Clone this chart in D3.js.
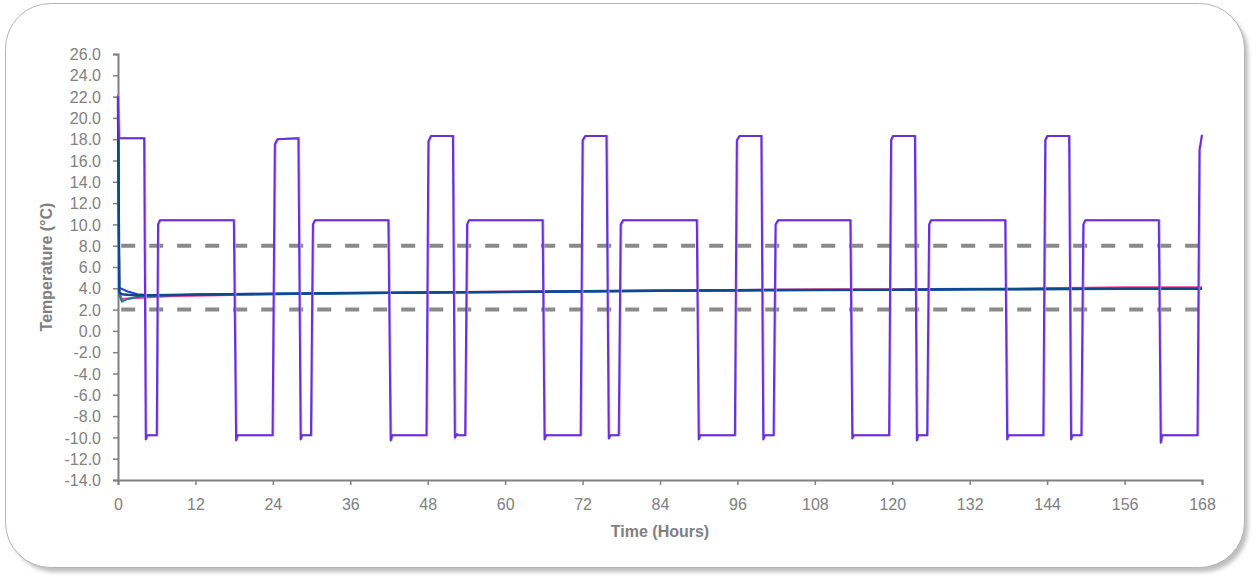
<!DOCTYPE html>
<html><head><meta charset="utf-8">
<script src="https://cdn.jsdelivr.net/npm/d3@7"></script>
<style>
html,body{margin:0;padding:0;background:#fff;}
svg{display:block;font-family:"Liberation Sans",Arial,sans-serif;}
</style></head>
<body>
<svg id="chart" width="1258" height="575"></svg>
<script>
// ---- data (time in hours, temperature in °C) ----
const xTicks = [0,12,24,36,48,60,72,84,96,108,120,132,144,156,168];
const yTicks = [26,24,22,20,18,16,14,12,10,8,6,4,2,0,-2,-4,-6,-8,-10,-12,-14];
const limitLines = [8, 2];

const ambientTime = [0,0.15,4.05,4.3,4.5,6.0,6.2,6.5,17.95,18.3,18.5,23.95,24.3,24.7,27.95,28.3,28.5,29.9,30.2,30.5,41.9,42.25,42.5,47.8,48.1,48.5,51.9,52.2,52.5,52.8,53.8,54.1,54.4,65.8,66.1,66.3,71.7,72.0,72.4,75.7,76.05,76.3,77.6,77.9,78.3,89.7,90.0,90.2,95.6,95.9,96.3,99.7,100.0,100.2,101.6,101.9,102.3,113.5,113.8,114.0,119.5,119.8,120.1,123.5,123.8,124.0,125.4,125.7,126.0,137.5,137.8,138.0,143.4,143.7,144.0,147.4,147.7,147.9,149.3,149.6,149.9,161.3,161.6,161.8,167.3,167.6,168.0];
const ambientTemp = [22.0,18.1,18.1,-10.2,-9.8,-9.8,10.0,10.4,10.4,-10.3,-9.8,-9.8,17.5,18.0,18.1,-10.2,-9.8,-9.8,10.0,10.4,10.4,-10.3,-9.8,-9.8,17.8,18.3,18.3,-10.0,-9.7,-9.8,-9.8,10.0,10.4,10.4,-10.2,-9.8,-9.8,17.9,18.3,18.3,-10.1,-9.8,-9.8,10.0,10.4,10.4,-10.2,-9.8,-9.8,17.9,18.3,18.3,-10.2,-9.8,-9.8,10.0,10.4,10.4,-10.1,-9.8,-9.8,17.9,18.3,18.3,-10.3,-9.8,-9.8,10.0,10.4,10.4,-10.2,-9.8,-9.8,17.9,18.3,18.3,-10.2,-9.8,-9.8,10.0,10.4,10.4,-10.5,-9.8,-9.8,17.0,18.4];

const productTime  = [0,0.2,0.6,1.5,3,5,8,12,24,36,48,60,72,84,96,108,120,132,144,156,168];
const pinkTemp     = [22.2,3.6,3.0,3.05,3.1,3.15,3.25,3.3,3.45,3.55,3.6,3.7,3.75,3.8,3.85,3.9,3.9,3.95,4.0,4.1,4.1];
const tealTemp     = [21.8,3.4,2.75,3.0,3.2,3.3,3.35,3.4,3.45,3.5,3.6,3.65,3.7,3.75,3.8,3.85,3.85,3.9,3.9,3.95,3.95];
const blueTemp     = [22.0,4.0,3.95,3.7,3.45,3.35,3.35,3.4,3.5,3.55,3.6,3.65,3.7,3.8,3.8,3.85,3.85,3.9,3.95,3.95,3.95];
const navyTemp     = [22.0,3.6,3.45,3.4,3.35,3.35,3.38,3.42,3.48,3.55,3.6,3.65,3.72,3.78,3.82,3.85,3.87,3.9,3.93,3.95,3.95];

// ---- layout ----
const svg = d3.select("#chart");
const L = 118, R = 1202, T = 54, B = 480;
const x = d3.scaleLinear().domain([0,168]).range([L,R]);
const y = d3.scaleLinear().domain([-14,26]).range([B,T]);
const grey = "#808080";

// frame with shadow
const defs = svg.append("defs");
const f = defs.append("filter").attr("id","sh").attr("x","-5%").attr("y","-5%").attr("width","110%").attr("height","110%");
f.append("feGaussianBlur").attr("stdDeviation",2);
svg.append("rect").attr("x",10).attr("y",8).attr("width",1238).attr("height",564)
  .attr("rx",45).attr("fill","#bdbdbd").attr("filter","url(#sh)");
svg.append("rect").attr("x",5.5).attr("y",3.5).attr("width",1239).attr("height",564)
  .attr("rx",45).attr("fill","#fff").attr("stroke","#b4b4b4").attr("stroke-width",1);

// limit lines
svg.append("g").selectAll("line").data(limitLines).join("line")
  .attr("x1",x(0.5)).attr("x2",x(168.2))
  .attr("y1",d=>y(d)).attr("y2",d=>y(d))
  .attr("stroke","#8a8a8a").attr("stroke-width",4).attr("stroke-dasharray","14,14");

// axes
const yAxis = d3.axisLeft(y).tickValues(yTicks).tickFormat(d=>d.toFixed(1)).tickSize(5).tickPadding(12);
const xAxis = d3.axisBottom(x).tickValues(xTicks).tickFormat(d=>String(d)).tickSize(5).tickPadding(14);
const gy = svg.append("g").attr("transform",`translate(${L},0)`).call(yAxis);
const gx = svg.append("g").attr("transform",`translate(0,${B})`).call(xAxis);
[gx,gy].forEach(g=>{
  g.select(".domain").attr("stroke",grey).attr("stroke-width",2);
  g.selectAll(".tick line").attr("stroke",grey).attr("stroke-width",1.5);
  g.selectAll(".tick text").attr("fill",grey).style("font-size","16px").style("font-family","'Liberation Sans',Arial,sans-serif");
});
gy.selectAll(".tick text").attr("dy","0.35em");

// axis titles
svg.append("text").attr("x",(L+R)/2).attr("y",537).attr("text-anchor","middle")
  .attr("fill",grey).style("font-weight","bold").style("font-size","16px").text("Time (Hours)");
svg.append("text").attr("transform",`translate(52,${(T+B)/2}) rotate(-90)`).attr("text-anchor","middle")
  .attr("fill",grey).style("font-weight","bold").style("font-size","16px").text("Temperature (°C)");

// series
const line = d3.line().x(d=>x(d[0])).y(d=>y(d[1]));
const zip = (t,v)=>t.map((tt,i)=>[tt,v[i]]);
const products = [
  {v:pinkTemp, c:"#ff3f93", w:2},
  {v:tealTemp, c:"#1f7a8c", w:2},
  {v:blueTemp, c:"#1f3fd8", w:2},
  {v:navyTemp, c:"#0b4a8f", w:2.5}
];
svg.append("g").selectAll("path").data(products).join("path")
  .attr("d",d=>line(zip(productTime,d.v)))
  .attr("fill","none").attr("stroke",d=>d.c).attr("stroke-width",d=>d.w).attr("stroke-linejoin","round");

const amb = zip(ambientTime, ambientTemp);
svg.append("path").attr("d",line(amb.map(d=>[Math.min(168,d[0]+0.12),d[1]])))
  .attr("fill","none").attr("stroke","#b8a2ee").attr("stroke-width",2);
svg.append("path").attr("d",line(amb))
  .attr("fill","none").attr("stroke","#6b2fd6").attr("stroke-width",2).attr("stroke-linejoin","round");
</script>
</body></html>
